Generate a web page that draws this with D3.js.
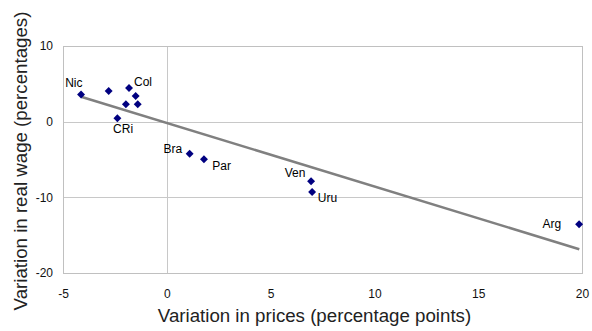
<!DOCTYPE html>
<html>
<head>
<meta charset="utf-8">
<script src="https://cdn.jsdelivr.net/npm/d3@7"></script>
<style>
  html, body { margin: 0; padding: 0; background: #fff; }
  svg { display: block; font-family: "Liberation Sans", Arial, sans-serif; }
</style>
</head>
<body>
<svg id="chart" width="592" height="331"></svg>
<script>
// Country codes and their price / real wage variations
const countries = ["Nic", "", "Col", "", "", "", "CRi", "Bra", "Par", "Ven", "Uru", "Arg"];
const priceVar  = [-4.13, -2.8, -1.82, -1.5, -1.97, -1.4, -2.38, 1.1, 1.79, 6.95, 7.0, 19.86];
const wageVar   = [3.6, 4.06, 4.45, 3.4, 2.3, 2.3, 0.45, -4.23, -4.97, -7.87, -9.29, -13.55];
// Label placement relative to each marker: [dx, dy, anchor]
const labelPos  = [[1.5, -7, "end"], [0, 0, "start"], [5, -1.5, "start"], [0, 0, "start"], [0, 0, "start"], [0, 0, "start"],
                   [-4.3, 14.7, "start"], [-7.5, -0.5, "end"], [8.3, 10.7, "start"], [-5.7, -4, "end"], [5.7, 9.7, "start"], [-18, 4, "end"]];
// Linear trend endpoints
const trendX = [-4.13, 19.87];
const trendY = [3.3, -16.86];
// Axis ticks
const xTicks = [-5, 0, 5, 10, 15, 20];
const yTicks = [10, 0, -10, -20];

const svg = d3.select("#chart");
const plotL = 63, plotR = 582, plotT = 46, plotB = 273;

const x = d3.scaleLinear().domain([-5, 20]).range([plotL, plotR]);
const y = d3.scaleLinear().domain([-20, 10]).range([plotB, plotT]);

// Horizontal gridlines
svg.append("g").selectAll("line").data(yTicks).join("line")
  .attr("x1", plotL).attr("x2", plotR)
  .attr("y1", d => Math.round(y(d)) + 0.5).attr("y2", d => Math.round(y(d)) + 0.5)
  .attr("stroke", "#c8c8c8").attr("stroke-width", 1);

// Vertical zero line
svg.append("line")
  .attr("x1", Math.round(x(0)) + 0.5).attr("x2", Math.round(x(0)) + 0.5)
  .attr("y1", plotT).attr("y2", plotB)
  .attr("stroke", "#c8c8c8").attr("stroke-width", 1);

// Plot frame
svg.append("rect")
  .attr("x", plotL + 0.5).attr("y", plotT + 0.5)
  .attr("width", plotR - plotL).attr("height", plotB - plotT)
  .attr("fill", "none").attr("stroke", "#c0c0c0").attr("stroke-width", 1);

// Axes (labels only, plain hyphen for negatives)
const fmt = d => String(d);
const xAxis = d3.axisBottom(x).tickValues(xTicks).tickSize(0).tickPadding(0).tickFormat(fmt);
const gx = svg.append("g").attr("transform", `translate(0,${plotB + 16})`).call(xAxis);
gx.select(".domain").remove();
gx.selectAll("text").attr("font-size", 12).attr("fill", "#111").attr("font-family", "Liberation Sans, Arial, sans-serif");

const yAxis = d3.axisLeft(y).tickValues(yTicks).tickSize(0).tickPadding(0).tickFormat(fmt);
const gy = svg.append("g").attr("transform", `translate(${plotL - 10},0)`).call(yAxis);
gy.select(".domain").remove();
gy.selectAll("text").attr("font-size", 12).attr("fill", "#111").attr("font-family", "Liberation Sans, Arial, sans-serif");

// Trend line
svg.append("line")
  .attr("x1", x(trendX[0])).attr("y1", y(trendY[0]))
  .attr("x2", x(trendX[1])).attr("y2", y(trendY[1]))
  .attr("stroke", "#808080").attr("stroke-width", 2.5);

// Diamond markers
const diamond = d3.symbol().type(d3.symbolDiamond2).size(40);
svg.append("g").selectAll("path").data(priceVar).join("path")
  .attr("d", diamond)
  .attr("transform", (d, i) => `translate(${x(d)},${y(wageVar[i])})`)
  .attr("fill", "#000080");

// Country labels
const labelIdx = countries.map((c, i) => i).filter(i => countries[i] !== "");
svg.append("g").selectAll("text").data(labelIdx).join("text")
  .attr("x", i => x(priceVar[i]) + labelPos[i][0])
  .attr("y", i => y(wageVar[i]) + labelPos[i][1])
  .attr("text-anchor", i => labelPos[i][2])
  .attr("font-size", 12).attr("fill", "#000")
  .text(i => countries[i]);

// Axis titles
svg.append("text")
  .attr("x", 314.5).attr("y", 322)
  .attr("text-anchor", "middle").attr("font-size", 18.7).attr("fill", "#222")
  .text("Variation in prices (percentage points)");

svg.append("text")
  .attr("transform", "translate(27,161) rotate(-90)")
  .attr("text-anchor", "middle").attr("font-size", 18.7).attr("fill", "#222")
  .text("Variation in real wage (percentages)");
</script>
</body>
</html>
